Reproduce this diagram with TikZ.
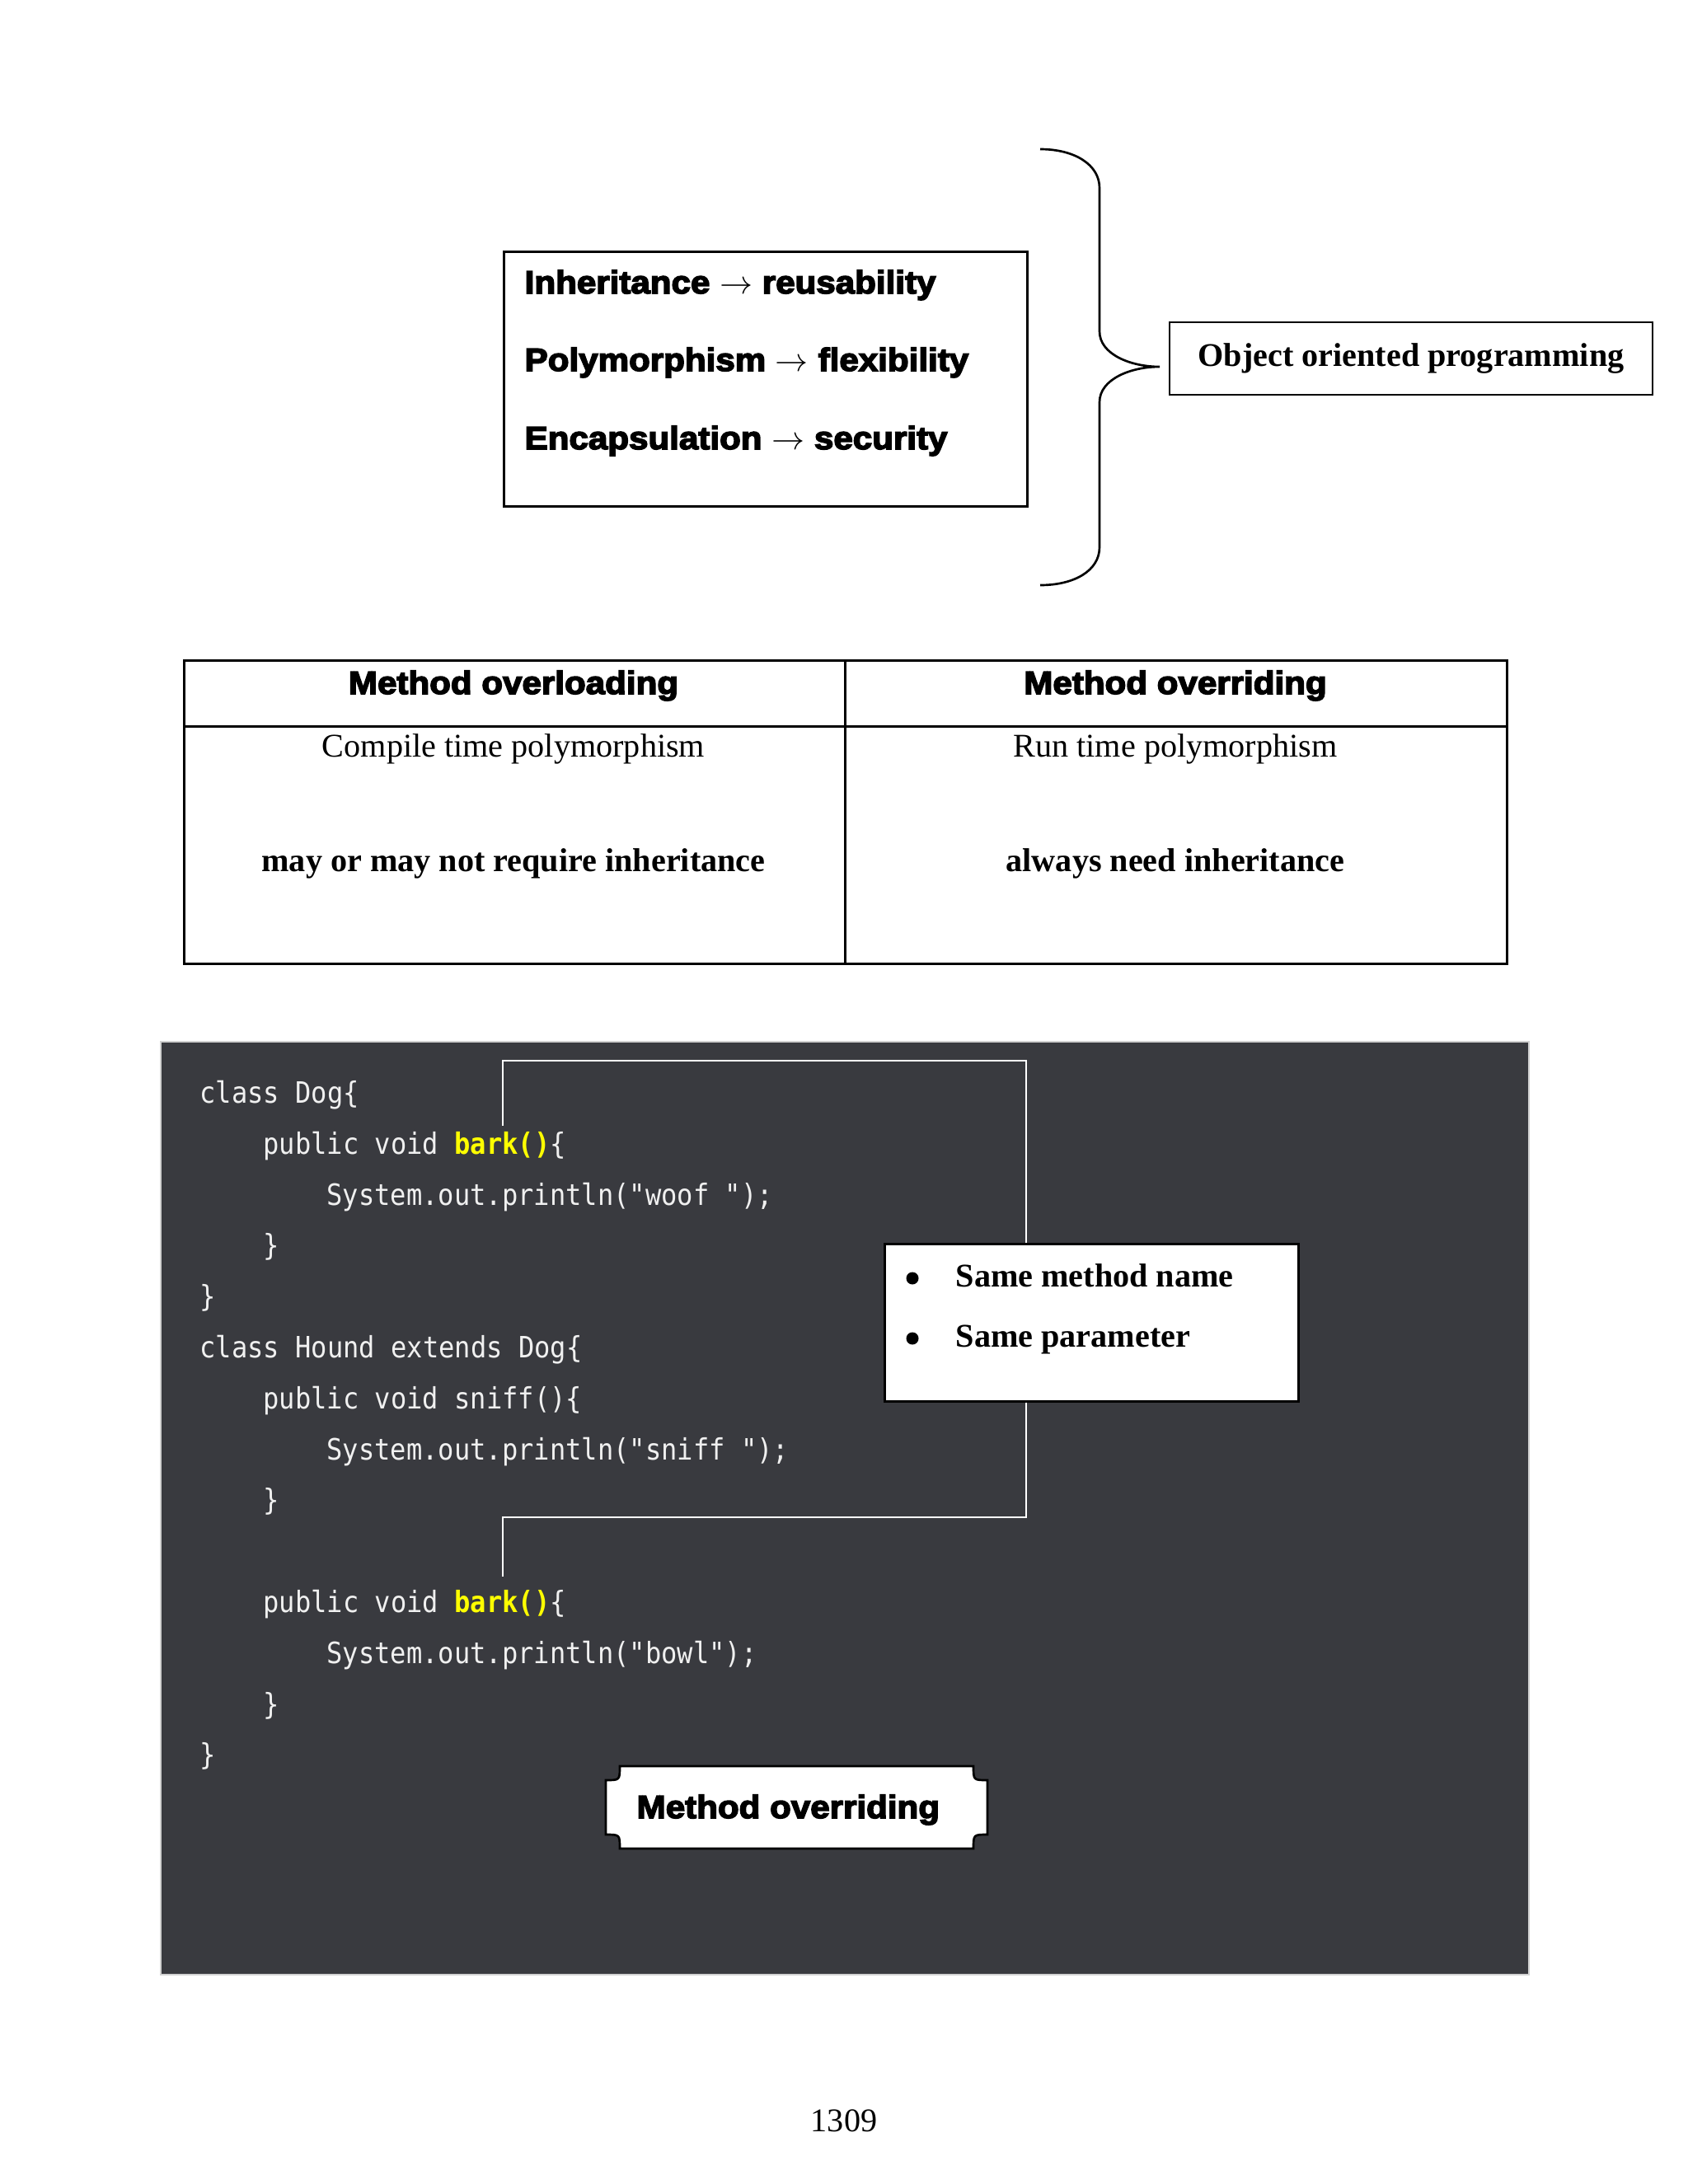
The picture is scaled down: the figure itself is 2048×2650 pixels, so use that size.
\documentclass[tikz,border=0pt]{standalone}
\usepackage{fontspec}
\setmainfont{Liberation Serif}
\setmonofont{DejaVu Sans Mono}[FakeStretch=0.9]
\newfontfamily\heavyfont{Liberation Sans}[FakeStretch=1.08,FakeBold=4]
\usetikzlibrary{positioning}

\newcommand{\pxu}{0.010542cm}
\newcommand{\headsize}{\heavyfont\bfseries\fontsize{11.7}{14}\selectfont}
\newcommand{\serifsize}{\fontsize{12.05}{14}\selectfont}
\newcommand{\serifbold}{\bfseries\fontsize{12.05}{14}\selectfont}
\newcommand{\codesize}{\ttfamily\fontsize{10.7}{13}\selectfont}
\definecolor{codebg}{RGB}{57,58,63}
\definecolor{codefg}{RGB}{240,240,240}
\definecolor{hilite}{RGB}{255,255,0}

\begin{document}
\begin{tikzpicture}[x=\pxu, y=-\pxu,
      plainbox/.style={draw, line width=0.8pt, fill=white, inner sep=0pt},
      headtext/.style={font=\headsize, inner sep=0pt},
      serif/.style={font=\serifsize, inner sep=0pt},
      serifb/.style={font=\serifbold, inner sep=0pt},
      codeline/.style={font=\codesize, text=codefg, inner sep=0pt, anchor=base west},
      bulletdot/.style={circle, fill, inner sep=0pt, minimum size=15*\pxu},
      link/.style={draw=white, line width=0.6pt}]

  \fill[white] (0,0) rectangle (2048,2650);
  \useasboundingbox (0,0) rectangle (2048,2650);

  % top part: three traits and the brace
  \node[plainbox, anchor=north west, minimum width=635*\pxu, minimum height=309*\pxu] (traits) at (610,304) {};
  \node[headtext, anchor=base west] (inh) at (636,356) {Inheritance $\rightarrow$ reusability};
  \node[headtext, anchor=base west] (poly) at (636,450) {Polymorphism $\rightarrow$ flexibility};
  \node[headtext, anchor=base west] (enc) at (636,545) {Encapsulation $\rightarrow$ security};

  \coordinate (tip) at (1407,445);
  \draw[line width=0.8pt] (1262,181) .. controls (1304,181) and (1334,200) .. (1334,228)
    -- (1334,402) .. controls (1334,430) and (1372,445) .. (tip)
    .. controls (1372,445) and (1334,460) .. (1334,488)
    -- (1334,664) .. controls (1334,692) and (1304,710) .. (1262,710);

  \node[plainbox, font=\serifbold, minimum width=586*\pxu, minimum height=88*\pxu] (oop) at (1712,435) {Object oriented programming};

  % comparison table
  \node[plainbox, anchor=north west, minimum width=802*\pxu, minimum height=80*\pxu] (hleft) at (222,800) {};
  \node[plainbox, anchor=north west, minimum width=803*\pxu, minimum height=80*\pxu] (hright) at (1024,800) {};
  \node[plainbox, anchor=north west, minimum width=802*\pxu, minimum height=288*\pxu] (bleft) at (222,880) {};
  \node[plainbox, anchor=north west, minimum width=803*\pxu, minimum height=288*\pxu] (bright) at (1024,880) {};

  \node[headtext, anchor=base] (overload) at (623,842) {Method overloading};
  \node[headtext, anchor=base] (override) at (1426,842) {Method overriding};
  \node[serif, anchor=base] (compile) at (623,918) {Compile time polymorphism};
  \node[serif, anchor=base] (runtime) at (1426,918) {Run time polymorphism};
  \node[serifb, anchor=base] (mayinh) at (623,1057) {may or may not require inheritance};
  \node[serifb, anchor=base] (needinh) at (1426,1057) {always need inheritance};

  % code listing
  \node[draw=black!18, line width=0.6pt, fill=codebg, anchor=north west, minimum width=1660*\pxu, minimum height=1132*\pxu] (codebox) at (194,1263) {};

  \node[codeline] (c1) at (242,1338) {class Dog\{};
  \node[codeline] (c2) at (319,1400) {public void \textcolor{hilite}{\bfseries bark()}\{};
  \node[codeline] (c3) at (396,1462) {System.out.println("woof ");};
  \node[codeline] (c4) at (319,1523) {\}};
  \node[codeline] (c5) at (242,1585) {\}};
  \node[codeline] (c6) at (242,1647) {class Hound extends Dog\{};
  \node[codeline] (c7) at (319,1709) {public void sniff()\{};
  \node[codeline] (c8) at (396,1771) {System.out.println("sniff ");};
  \node[codeline] (c9) at (319,1832) {\}};
  \node[codeline] (c11) at (319,1956) {public void \textcolor{hilite}{\bfseries bark()}\{};
  \node[codeline] (c12) at (396,2018) {System.out.println("bowl");};
  \node[codeline] (c13) at (319,2080) {\}};
  \node[codeline] (c14) at (242,2141) {\}};

  \coordinate (bark1) at (610,1366);
  \coordinate (bark2) at (610,1913);
  \coordinate (turnA) at (1245,1287);
  \coordinate (turnB) at (1245,1841);

  \node[plainbox, anchor=north west, minimum width=502*\pxu, minimum height=191*\pxu] (same) at (1072,1508) {};
  \draw[link] (bark1) |- (turnA) -- (turnA |- same.north);
  \draw[link] (same.south -| turnB) -- (turnB) -| (bark2);

  \node[bulletdot] (dot1) at (1107,1551) {};
  \node[bulletdot] (dot2) at (1107,1624) {};
  \node[serifb, anchor=base west] (samename) at (1159,1561) {Same method name};
  \node[serifb, anchor=base west] (sameparam) at (1159,1634) {Same parameter};

  % plaque with cut corners
  \draw[line width=0.8pt, fill=white] (752,2143) -- (1181,2143) .. controls (1181,2160) .. (1198,2160)
    -- (1198,2226) .. controls (1181,2226) .. (1181,2243)
    -- (752,2243) .. controls (752,2226) .. (735,2226)
    -- (735,2160) .. controls (752,2160) .. (752,2143) -- cycle;
  \node[headtext, anchor=base west] (ovrlabel) at (772,2206) {Method overriding};

  \node[serif, anchor=base] (pagenum) at (1024,2586) {1309};
\end{tikzpicture}
\end{document}
